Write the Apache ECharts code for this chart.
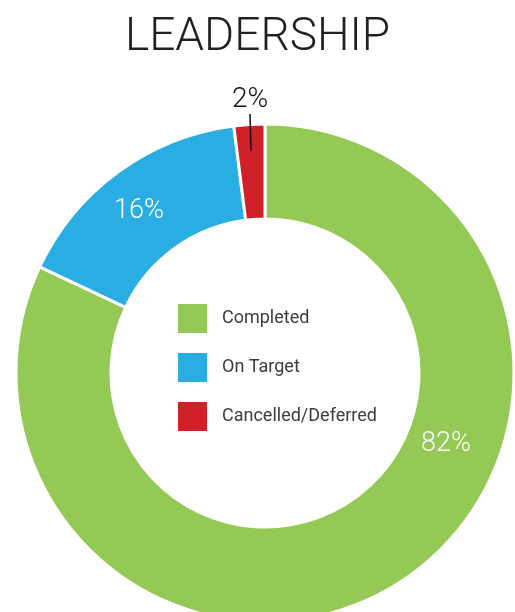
<!DOCTYPE html>
<html>
<head>
<meta charset="utf-8">
<script src="https://cdn.jsdelivr.net/npm/echarts@6/dist/echarts.min.js"></script>
<style>
html,body{margin:0;padding:0;background:#fff;}
#chart{width:515px;height:612px;}
</style>
</head>
<body>
<div id="chart"></div>
<script>
var categories = ["Completed", "On Target", "Cancelled/Deferred"];
var values = [82, 16, 2];
var colors = ["#93c954", "#29ade2", "#d0202a"];

var myChart = echarts.init(document.getElementById("chart"));
var font = "Roboto";

// label spots, in px
var labelSpots = {
    0: {x: 446, y: 444},
    1: {x: 139, y: 211},
    2: {x: 250, y: 100}
};
function placeLabel(params) {
    var s = labelSpots[params.dataIndex];
    if (!s) return {};
    return {x: s.x, y: s.y, align: "center", verticalAlign: "middle"};
}

var option = {
    title: {
        text: "LEADERSHIP",
        left: "center",
        top: 10,
        textStyle: {fontFamily: font, fontWeight: 300, fontSize: 46, color: "#231f20"}
    },
    legend: {
        orient: "vertical",
        left: 176,
        top: 302,
        padding: 0,
        itemWidth: 31,
        itemHeight: 31,
        itemGap: 16,
        icon: "rect",
        selectedMode: false,
        textStyle: {fontFamily: font, fontSize: 18, color: "#3c3c3c", padding: [0, 0, 0, 9]},
        data: categories
    },
    series: [{
        type: "pie",
        z: 2,
        center: [265, 373],
        radius: [154, 249],
        startAngle: 90,
        animation: false,
        itemStyle: {borderColor: "#fff", borderWidth: 3},
        label: {
            show: true,
            position: "inside",
            formatter: "{c}%",
            fontFamily: font,
            fontWeight: 300,
            fontSize: 27,
            color: "#fff"
        },
        labelLine: {show: false},
        labelLayout: placeLabel,
        data: categories.map(function (c, i) {
            var d = {name: c, value: values[i], itemStyle: {color: colors[i]}};
            if (i === 2) d.label = {show: false};
            return d;
        })
    }, {
        // same data, narrower ring, only to hang the small slice's label line
        type: "pie",
        z: 5,
        center: [265, 373],
        radius: [154, 223],
        startAngle: 90,
        animation: false,
        silent: true,
        itemStyle: {color: "rgba(0,0,0,0)"},
        label: {show: false},
        labelLine: {show: false},
        labelLayout: placeLabel,
        data: categories.map(function (c, i) {
            var d = {name: c, value: values[i]};
            if (i === 2) {
                d.label = {
                    show: true, position: "outside", formatter: "{c}%",
                    fontFamily: font, fontWeight: 300, fontSize: 28, color: "#111"
                };
                d.labelLine = {show: true, length: 30, length2: 0, lineStyle: {color: "#111", width: 1.5}};
            }
            return d;
        })
    }]
};
myChart.setOption(option);
</script>
</body>
</html>
